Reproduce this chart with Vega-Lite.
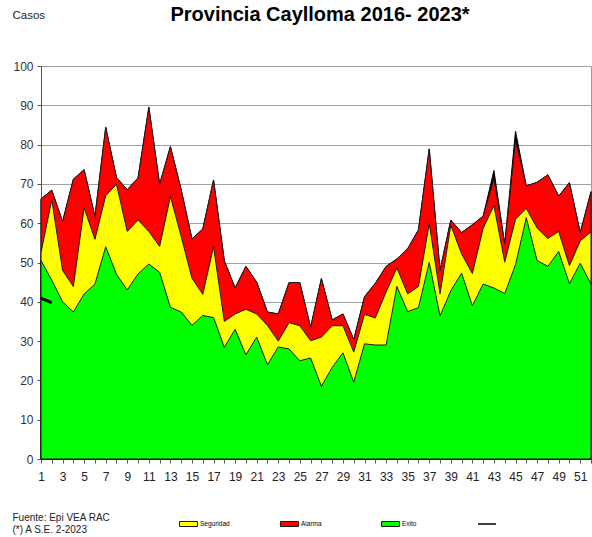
{
  "$schema": "https://vega.github.io/schema/vega-lite/v6.json",
  "width": 550,
  "height": 393,
  "autosize": {"type": "none"},
  "padding": {"left": 41, "top": 66, "right": 1, "bottom": 78},
  "background": "white",
  "title": {
    "text": "Provincia Caylloma 2016- 2023*",
    "font": "Liberation Sans",
    "fontSize": 20,
    "fontWeight": "bold",
    "color": "#000000",
    "anchor": "middle",
    "baseline": "alphabetic",
    "dx": 4,
    "dy": 36
  },
  "config": {
    "view": {"stroke": "#9a9a9a", "strokeWidth": 1},
    "axis": {"labelFont": "Liberation Sans", "titleFont": "Liberation Sans"}
  },
  "resolve": {"axis": {"y": "independent"}},
  "data": {
    "values": [
      {"semana": 1, "exito": 50.5, "seguridad": 52.5, "alarma": 66.2, "techo": 66.2, "casos": 40.9},
      {"semana": 2, "exito": 45.5, "seguridad": 66, "alarma": 68.4, "techo": 68.4, "casos": 39.8},
      {"semana": 3, "exito": 40, "seguridad": 48, "alarma": 60.4, "techo": 60.4, "casos": null},
      {"semana": 4, "exito": 37.4, "seguridad": 43.9, "alarma": 71.2, "techo": 71.2, "casos": null},
      {"semana": 5, "exito": 42, "seguridad": 63.9, "alarma": 73.6, "techo": 73.6, "casos": null},
      {"semana": 6, "exito": 44.5, "seguridad": 55.9, "alarma": 61.7, "techo": 61.7, "casos": null},
      {"semana": 7, "exito": 54, "seguridad": 67, "alarma": 84.4, "techo": 84.4, "casos": null},
      {"semana": 8, "exito": 47, "seguridad": 69.9, "alarma": 71.6, "techo": 71.6, "casos": null},
      {"semana": 9, "exito": 43, "seguridad": 57.9, "alarma": 68.5, "techo": 68.5, "casos": null},
      {"semana": 10, "exito": 47.1, "seguridad": 60.8, "alarma": 71.5, "techo": 71.5, "casos": null},
      {"semana": 11, "exito": 49.6, "seguridad": 57.9, "alarma": 89.5, "techo": 89.5, "casos": null},
      {"semana": 12, "exito": 47.5, "seguridad": 54.1, "alarma": 69.9, "techo": 69.9, "casos": null},
      {"semana": 13, "exito": 38.6, "seguridad": 66.8, "alarma": 79.5, "techo": 79.5, "casos": null},
      {"semana": 14, "exito": 37.4, "seguridad": 56.6, "alarma": 68.5, "techo": 68.5, "casos": null},
      {"semana": 15, "exito": 34, "seguridad": 46, "alarma": 56, "techo": 56, "casos": null},
      {"semana": 16, "exito": 36.5, "seguridad": 41.9, "alarma": 58.5, "techo": 58.5, "casos": null},
      {"semana": 17, "exito": 36, "seguridad": 54, "alarma": 71, "techo": 71, "casos": null},
      {"semana": 18, "exito": 28.4, "seguridad": 35, "alarma": 50.4, "techo": 50.4, "casos": null},
      {"semana": 19, "exito": 33, "seguridad": 36.9, "alarma": 43.5, "techo": 43.5, "casos": null},
      {"semana": 20, "exito": 26.5, "seguridad": 38.1, "alarma": 49, "techo": 49, "casos": null},
      {"semana": 21, "exito": 31, "seguridad": 36.9, "alarma": 45, "techo": 45, "casos": null},
      {"semana": 22, "exito": 24, "seguridad": 34, "alarma": 37.4, "techo": 37.4, "casos": null},
      {"semana": 23, "exito": 28.5, "seguridad": 30, "alarma": 36.9, "techo": 36.9, "casos": null},
      {"semana": 24, "exito": 28, "seguridad": 34.7, "alarma": 44.9, "techo": 44.9, "casos": null},
      {"semana": 25, "exito": 25, "seguridad": 33.9, "alarma": 44.9, "techo": 44.9, "casos": null},
      {"semana": 26, "exito": 25.7, "seguridad": 30.1, "alarma": 33.5, "techo": 33.5, "casos": null},
      {"semana": 27, "exito": 18.5, "seguridad": 31, "alarma": 45.9, "techo": 45.9, "casos": null},
      {"semana": 28, "exito": 23.3, "seguridad": 33.9, "alarma": 35.4, "techo": 35.4, "casos": null},
      {"semana": 29, "exito": 27, "seguridad": 33.9, "alarma": 36.9, "techo": 36.9, "casos": null},
      {"semana": 30, "exito": 19.5, "seguridad": 27.2, "alarma": 30.4, "techo": 30.4, "casos": null},
      {"semana": 31, "exito": 29.3, "seguridad": 36.8, "alarma": 41.3, "techo": 41.3, "casos": null},
      {"semana": 32, "exito": 29, "seguridad": 35.9, "alarma": 44.7, "techo": 44.7, "casos": null},
      {"semana": 33, "exito": 29, "seguridad": 42.5, "alarma": 49, "techo": 49, "casos": null},
      {"semana": 34, "exito": 43.9, "seguridad": 48.6, "alarma": 50.9, "techo": 50.9, "casos": null},
      {"semana": 35, "exito": 37.5, "seguridad": 42, "alarma": 53.5, "techo": 53.5, "casos": null},
      {"semana": 36, "exito": 38.5, "seguridad": 43.9, "alarma": 58.3, "techo": 58.3, "casos": null},
      {"semana": 37, "exito": 50, "seguridad": 59.9, "alarma": 78.9, "techo": 78.9, "casos": null},
      {"semana": 38, "exito": 36.4, "seguridad": 42, "alarma": 48, "techo": 48, "casos": null},
      {"semana": 39, "exito": 42.8, "seguridad": 59.5, "alarma": 60.8, "techo": 60.8, "casos": null},
      {"semana": 40, "exito": 47.3, "seguridad": 52.2, "alarma": 57.6, "techo": 57.6, "casos": null},
      {"semana": 41, "exito": 39, "seguridad": 47.2, "alarma": 59.6, "techo": 59.6, "casos": null},
      {"semana": 42, "exito": 44.5, "seguridad": 58.7, "alarma": 61.8, "techo": 61.8, "casos": null},
      {"semana": 43, "exito": 43.5, "seguridad": 64.5, "alarma": 71.3, "techo": 73.4, "casos": null},
      {"semana": 44, "exito": 42.1, "seguridad": 50.1, "alarma": 54.7, "techo": 54.7, "casos": null},
      {"semana": 45, "exito": 49.4, "seguridad": 61, "alarma": 81, "techo": 83.4, "casos": null},
      {"semana": 46, "exito": 61.4, "seguridad": 63.8, "alarma": 69.5, "techo": 69.5, "casos": null},
      {"semana": 47, "exito": 50.5, "seguridad": 58.8, "alarma": 70.4, "techo": 70.4, "casos": null},
      {"semana": 48, "exito": 49, "seguridad": 56.1, "alarma": 72.3, "techo": 72.3, "casos": null},
      {"semana": 49, "exito": 52.8, "seguridad": 57.9, "alarma": 66.9, "techo": 66.9, "casos": null},
      {"semana": 50, "exito": 44.6, "seguridad": 49.2, "alarma": 70.3, "techo": 70.3, "casos": null},
      {"semana": 51, "exito": 49.8, "seguridad": 55.5, "alarma": 57.6, "techo": 57.6, "casos": null},
      {"semana": 52, "exito": 44.5, "seguridad": 57.8, "alarma": 68, "techo": 68, "casos": null}
    ]
  },
  "encoding": {
    "x": {
      "field": "semana",
      "type": "quantitative",
      "scale": {"domain": [1, 52], "nice": false, "zero": false},
      "axis": {
        "values": [1,2,3,4,5,6,7,8,9,10,11,12,13,14,15,16,17,18,19,20,21,22,23,24,25,26,27,28,29,30,31,32,33,34,35,36,37,38,39,40,41,42,43,44,45,46,47,48,49,50,51,52],
        "labelExpr": "datum.value % 2 == 1 ? datum.label : ''",
        "grid": false,
        "domain": true,
        "domainColor": "#222222",
        "domainWidth": 1,
        "ticks": true,
        "tickSize": 4,
        "tickColor": "#555555",
        "labelFontSize": 12,
        "labelColor": "#222222",
        "labelPadding": 8,
        "labelFlush": false,
        "labelOverlap": false,
        "labelBound": false,
        "labelAlign": "center",
        "labelBaseline": "top",
        "title": ["Fuente:  Epi VEA RAC", "(*) A S.E. 2-2023"],
        "titleFont": "Liberation Sans",
        "titleFontSize": 10,
        "titleFontWeight": "normal",
        "titleColor": "#222222",
        "titleAnchor": "start",
        "titleAlign": "left",
        "titleBaseline": "top",
        "titleAngle": 0,
        "titleLineHeight": 12,
        "titleX": -29,
        "titleY": 53
      }
    }
  },
  "layer": [
    {
      "mark": {"type": "area", "fill": "#000000", "stroke": "#000000", "strokeWidth": 1, "fillOpacity": 1},
      "encoding": {
        "y": {
          "field": "techo",
          "type": "quantitative",
          "scale": {"domain": [0, 100], "nice": false, "zero": true},
          "axis": {
            "values": [0, 10, 20, 30, 40, 50, 60, 70, 80, 90, 100],
            "grid": true,
            "gridColor": "#a0a0a0",
            "gridWidth": 1.2,
            "domain": true,
            "domainColor": "#555555",
            "ticks": true,
            "tickSize": 4,
            "tickColor": "#555555",
            "labelFontSize": 12,
            "labelColor": "#333333",
            "labelPadding": 4,
            "labelFlush": false,
            "labelOverlap": false,
            "title": "Casos",
            "titleFontSize": 11.5,
            "titleFontWeight": "normal",
            "titleColor": "#222222",
            "titleAngle": 0,
            "titleAlign": "left",
            "titleBaseline": "alphabetic",
            "titleX": -29,
            "titleY": -48
          }
        }
      }
    },
    {
      "mark": {"type": "area", "stroke": "#1a1a1a", "strokeWidth": 1, "fillOpacity": 1},
      "encoding": {
        "y": {"field": "alarma", "type": "quantitative", "axis": null},
        "fill": {
          "datum": "Alarma",
          "type": "nominal",
          "scale": {"domain": ["Seguridad", "Alarma", "Exito"], "range": ["#FFFF00", "#FF0000", "#00FF00"]},
          "legend": {
            "orient": "none",
            "legendX": 138,
            "legendY": 448,
            "direction": "horizontal",
            "columns": 3,
            "gridAlign": "all",
            "columnPadding": 48,
            "padding": 0,
            "title": null,
            "symbolType": "M-1,-0.28H1V0.28H-1Z",
            "symbolSize": 324,
            "symbolStrokeColor": "#000000",
            "symbolStrokeWidth": 1,
            "symbolOpacity": 1,
            "labelFont": "Liberation Sans",
            "labelFontSize": 6.5,
            "labelColor": "#000000",
            "labelOffset": 2
          }
        }
      }
    },
    {
      "mark": {"type": "area", "stroke": "#1a1a1a", "strokeWidth": 1, "fillOpacity": 1},
      "encoding": {
        "y": {"field": "seguridad", "type": "quantitative", "axis": null},
        "fill": {
          "datum": "Seguridad",
          "type": "nominal",
          "scale": {"domain": ["Seguridad", "Alarma", "Exito"], "range": ["#FFFF00", "#FF0000", "#00FF00"]}
        }
      }
    },
    {
      "mark": {"type": "area", "stroke": "#1a1a1a", "strokeWidth": 1, "fillOpacity": 1},
      "encoding": {
        "y": {"field": "exito", "type": "quantitative", "axis": null},
        "fill": {
          "datum": "Exito",
          "type": "nominal",
          "scale": {"domain": ["Seguridad", "Alarma", "Exito"], "range": ["#FFFF00", "#FF0000", "#00FF00"]}
        }
      }
    },
    {
      "mark": {"type": "line", "strokeWidth": 3},
      "encoding": {
        "y": {"field": "casos", "type": "quantitative", "axis": null},
        "stroke": {
          "datum": "2023",
          "type": "nominal",
          "scale": {"domain": ["2023"], "range": ["#000000"]},
          "legend": {
            "orient": "none",
            "legendX": 436,
            "legendY": 448,
            "padding": 0,
            "title": null,
            "symbolType": "stroke",
            "symbolSize": 324,
            "symbolStrokeWidth": 1.5,
            "labelExpr": "''",
            "labelFontSize": 7
          }
        }
      }
    }
  ]
}
